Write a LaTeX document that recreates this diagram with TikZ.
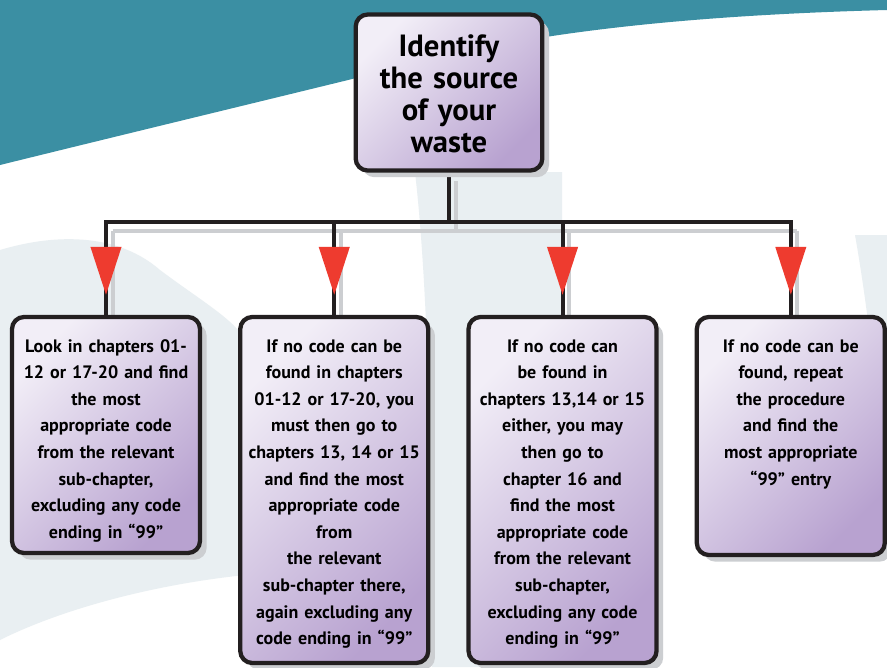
\documentclass[tikz,border=0pt]{standalone}
\usepackage{fontspec}
\setmainfont{PT Sans}
\usepackage{tikz}
\usetikzlibrary{arrows.meta,shadows,positioning,decorations.markings}
\definecolor{wsteal}{RGB}{59,143,163}
\definecolor{wsmist}{RGB}{233,239,242}
\definecolor{wslilac}{RGB}{242,238,247}
\definecolor{wspurple}{RGB}{184,162,208}
\definecolor{wsred}{RGB}{238,59,47}
\definecolor{wsink}{RGB}{35,31,32}
\definecolor{wsshadow}{RGB}{204,206,209}
\pgfdeclarelayer{backdrop}
\pgfdeclarelayer{wires}
\pgfsetlayers{backdrop,wires,main}
\tikzstyle{stepbox} = [rectangle, rounded corners=9pt, draw=wsink, line width=3.2pt, top color=wslilac, bottom color=wspurple, shading angle=45, drop shadow={shadow xshift=5pt, shadow yshift=-5pt, fill=wsshadow, opacity=1}, align=center, inner xsep=4.5pt, inner ysep=0pt, text width=132pt, font=\fontsize{13.5}{19.95}\selectfont\bfseries, text height=26.25pt]
\tikzstyle{sourcebox} = [stepbox, text width=128pt, inner xsep=6pt, font=\fontsize{23}{24}\selectfont\bfseries, text height=31.1pt, text depth=85.9pt]
\tikzstyle{link} = [line width=3pt, draw=wsink, preaction={draw=wsshadow, line width=3pt, transform canvas={xshift=5pt, yshift=-6.5pt}}]
\tikzstyle{branch} = [link,
  preaction={decorate, transform canvas={xshift=5pt, yshift=-6.5pt}, decoration={markings, mark=at position 0.785 with {\arrow[wsshadow]{Triangle[length=36pt, width=22.5pt]}}}},
  postaction={decorate, decoration={markings, mark=at position 0.785 with {\arrow[wsred]{Triangle[length=36pt, width=22.5pt]}}}}]

\begin{document}
\begin{tikzpicture}[x=0.75pt, y=-0.75pt]
\useasboundingbox (0,0) rectangle (887,667);
% Backdrop
\begin{pgfonlayer}{backdrop}
\fill[white] (0,0) rectangle (887,667);
\fill[wsmist] (0,250) .. controls (60,232) and (120,235) .. (160,270) .. controls (200,300) and (235,320) .. (245,340) -- (245,575) .. controls (150,585) and (60,610) .. (0,640) -- cycle;
\fill[wsmist] (415,172) .. controls (425,260) and (432,400) .. (432,667) -- (562,667) -- (562,172) -- cycle;
\fill[wsmist] (855,235) .. controls (870,320) and (880,420) .. (887,520) -- (887,235) -- cycle;
\fill[wsteal] (0,0) -- (887,0) -- (887,10) .. controls (700,15) and (560,30) .. (450,55) .. controls (300,92) and (150,128) .. (0,165) -- cycle;
\end{pgfonlayer}

% Boxes
\node[sourcebox, anchor=base] (src) at (449,56) {Identify\\the source\\of your\\waste};
\node[stepbox, anchor=base, text depth=150.75pt] (b1) at (106,352) {Look in chapters 01-\\12 or 17-20 and find\\the most\\appropriate code\\from the relevant\\sub-chapter,\\excluding any code\\ending in “99”};
\node[stepbox, base right=27pt of b1, text depth=233.25pt] (b2) {If no code can be\\found in chapters\\01-12 or 17-20, you\\must then go to\\chapters 13, 14 or 15\\and find the most\\appropriate code\\from\\the relevant\\sub-chapter there,\\again excluding any\\code ending in “99”};
\node[stepbox, base right=27pt of b2, text depth=233.25pt] (b3) {If no code can\\be found in\\chapters 13,14 or 15\\either, you may\\then go to\\chapter 16 and\\find the most\\appropriate code\\from the relevant\\sub-chapter,\\excluding any code\\ending in “99”};
\node[stepbox, base right=27pt of b3, text depth=152.25pt] (b4) {If no code can be\\found, repeat\\the procedure\\and find the\\most appropriate\\“99” entry};

% Connectors
\coordinate (bar) at (449,222);
\begin{pgfonlayer}{wires}
\draw[link] (src.south) -- (bar);
\draw[link, line cap=rect] (bar -| b1.north) -- (bar -| b4.north);
\draw[branch] (bar -| b1.north) -- (b1.north);
\draw[branch] (bar -| b2.north) -- (b2.north);
\draw[branch] (bar -| b3.north) -- (b3.north);
\draw[branch] (bar -| b4.north) -- (b4.north);
\end{pgfonlayer}
\end{tikzpicture}
\end{document}
